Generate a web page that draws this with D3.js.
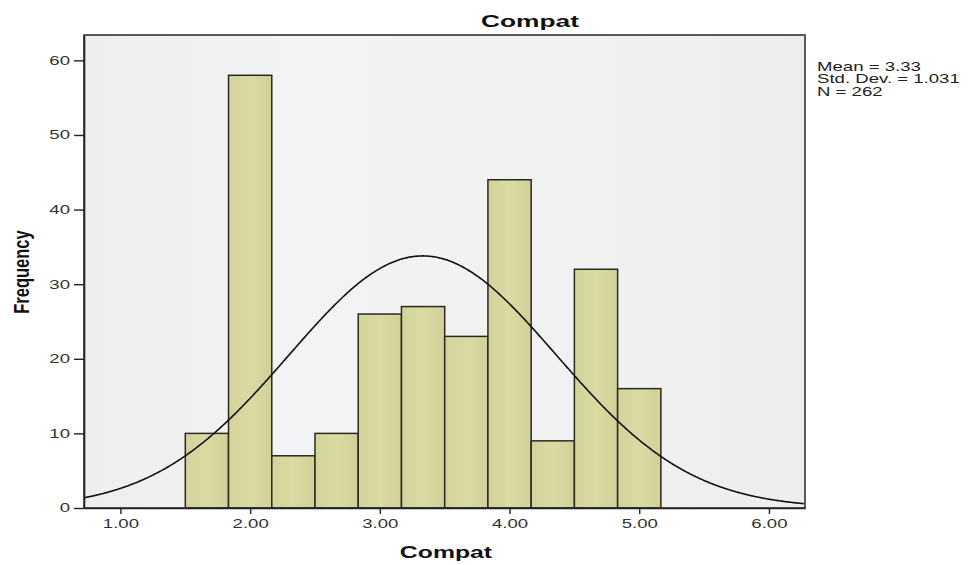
<!DOCTYPE html>
<html>
<head>
<meta charset="utf-8">
<script src="https://cdn.jsdelivr.net/npm/d3@7"></script>
<style>
  html, body { margin: 0; padding: 0; background: #ffffff; }
  svg { display: block; }
  text { font-family: Arial, "Liberation Sans", sans-serif; }
</style>
</head>
<body>
<svg id="chart" width="968" height="565"></svg>
<script>
// Histogram of Compat scores with a fitted normal curve
const binEdges = [1.5, 1.8333, 2.1667, 2.5, 2.8333, 3.1667, 3.5, 3.8333, 4.1667, 4.5, 4.8333, 5.1667];
const counts   = [10, 58, 7, 10, 26, 27, 23, 44, 9, 32, 16];
const xTicks   = [1, 2, 3, 4, 5, 6];
const yTicks   = [0, 10, 20, 30, 40, 50, 60];
const stats    = { mean: 3.33, sd: 1.031, n: 262 };
const statLines = ["Mean = 3.33", "Std. Dev. = 1.031", "N = 262"];

// text is drawn with a wide horizontal aspect
const SX = 1.55;

const svg = d3.select("#chart");
const margin = { left: 84, top: 35, right: 163, bottom: 57 };
const W = 968, H = 565;
const pw = W - margin.left - margin.right;
const ph = H - margin.top - margin.bottom;

const x = d3.scaleLinear().domain([0.719, 6.278]).range([margin.left, margin.left + pw]);
const y = d3.scaleLinear().domain([0, 63.4]).range([margin.top + ph, margin.top]);

// plot background with a soft vertical sheen
const defs = svg.append("defs");
const grad = defs.append("linearGradient").attr("id", "bg").attr("x1", 0).attr("x2", 1).attr("y1", 0).attr("y2", 0);
grad.append("stop").attr("offset", "0%").attr("stop-color", "#eeeeee");
grad.append("stop").attr("offset", "30%").attr("stop-color", "#f3f3f5");
grad.append("stop").attr("offset", "70%").attr("stop-color", "#f1f1f1");
grad.append("stop").attr("offset", "100%").attr("stop-color", "#ededed");
const barGrad = defs.append("linearGradient").attr("id", "barfill").attr("x1", 0).attr("x2", 1).attr("y1", 0).attr("y2", 0);
barGrad.append("stop").attr("offset", "0%").attr("stop-color", "#d2d29a");
barGrad.append("stop").attr("offset", "50%").attr("stop-color", "#dadaa3");
barGrad.append("stop").attr("offset", "100%").attr("stop-color", "#d0d098");

svg.append("rect")
  .attr("x", margin.left).attr("y", margin.top)
  .attr("width", pw).attr("height", ph)
  .attr("fill", "url(#bg)");

// bars
const bins = counts.map((c, i) => ({ x0: binEdges[i], x1: binEdges[i + 1], c }));
svg.append("g").selectAll("rect").data(bins).join("rect")
  .attr("x", d => x(d.x0))
  .attr("y", d => y(d.c))
  .attr("width", d => x(d.x1) - x(d.x0))
  .attr("height", d => y(0) - y(d.c))
  .attr("fill", "url(#barfill)")
  .attr("stroke", "#2a2a1e")
  .attr("stroke-width", 1.5);

// normal curve scaled to counts
const binW = binEdges[1] - binEdges[0];
const scaleK = stats.n * binW;
const pts = d3.range(0.719, 6.278 + 1e-9, 0.01).map(v => [v,
  scaleK * Math.exp(-0.5 * Math.pow((v - stats.mean) / stats.sd, 2)) / (stats.sd * Math.sqrt(2 * Math.PI))]);
svg.append("path")
  .datum(pts)
  .attr("d", d3.line().x(d => x(d[0])).y(d => y(d[1])).curve(d3.curveBasis))
  .attr("fill", "none")
  .attr("stroke", "#111")
  .attr("stroke-width", 1.6);

// frame
svg.append("rect")
  .attr("x", margin.left).attr("y", margin.top)
  .attr("width", pw).attr("height", ph)
  .attr("fill", "none")
  .attr("stroke", "#333")
  .attr("stroke-width", 1.6);

// axes
const xAxis = svg.append("g")
  .attr("transform", `translate(0,${margin.top + ph})`)
  .call(d3.axisBottom(x).tickValues(xTicks).tickFormat(d3.format(".2f")).tickSize(6).tickPadding(5).tickSizeOuter(0));
const yAxis = svg.append("g")
  .attr("transform", `translate(${margin.left},0)`)
  .call(d3.axisLeft(y).tickValues(yTicks).tickFormat(d3.format("d")).tickSize(10).tickPadding(4).tickSizeOuter(0));
[xAxis, yAxis].forEach(g => {
  g.select(".domain").attr("stroke", "#222").attr("stroke-width", 1.6);
  g.selectAll(".tick line").attr("stroke", "#222").attr("stroke-width", 1.4);
  g.selectAll(".tick text")
    .attr("fill", "#333").attr("font-size", 12)
    .attr("font-family", "Arial, 'Liberation Sans', sans-serif")
    .attr("x", function () { return (+d3.select(this).attr("x") || 0) / SX; })
    .attr("transform", `scale(${SX},1)`);
});

// title and axis labels
svg.append("text")
  .attr("transform", `translate(530,27) scale(${SX},1)`)
  .attr("text-anchor", "middle")
  .attr("font-size", 17).attr("font-weight", "bold").attr("fill", "#111")
  .text("Compat");
svg.append("text")
  .attr("transform", `translate(446,558) scale(${SX},1)`)
  .attr("text-anchor", "middle")
  .attr("font-size", 16).attr("font-weight", "bold").attr("fill", "#111")
  .text("Compat");
svg.append("text")
  .attr("transform", "translate(29,272) scale(1.35,1) rotate(-90)")
  .attr("text-anchor", "middle")
  .attr("font-size", 16.5).attr("font-weight", "bold").attr("fill", "#111")
  .text("Frequency");

// summary statistics
svg.append("g").selectAll("text").data(statLines).join("text")
  .attr("transform", (d, i) => `translate(817,${70.6 + i * 12.5}) scale(${SX},1)`)
  .attr("font-size", 12).attr("fill", "#222")
  .text(d => d);
</script>
</body>
</html>
